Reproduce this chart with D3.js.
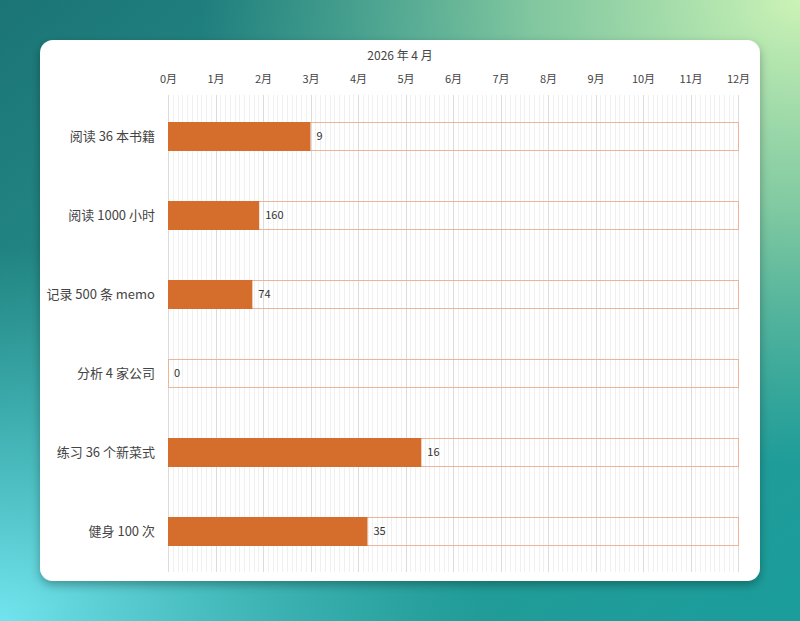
<!DOCTYPE html>
<html><head><meta charset="utf-8">
<script src="https://cdn.jsdelivr.net/npm/d3@7/dist/d3.min.js"></script>
<style>
html,body{margin:0;padding:0;width:800px;height:621px;overflow:hidden;}
svg{display:block;}
</style></head>
<body>
<svg id="c" width="800" height="621"></svg>
<script>
const categories = ["阅读 36 本书籍","阅读 1000 小时","记录 500 条 memo","分析 4 家公司","练习 36 个新菜式","健身 100 次"];
const targets = [36, 1000, 500, 4, 36, 100];
const current = [9, 160, 74, 0, 16, 35];
const monthTicks = [0,1,2,3,4,5,6,7,8,9,10,11,12];
const title = "2026 年 4 月";

const svg = d3.select("#c");
const defs = svg.append("defs");

// background
const lg = defs.append("linearGradient").attr("id","bg").attr("x1","0").attr("y1","0").attr("x2","1").attr("y2","1");
lg.append("stop").attr("offset","0").attr("stop-color","#1b7476");
lg.append("stop").attr("offset","0.5").attr("stop-color","#2a9a92");
lg.append("stop").attr("offset","1").attr("stop-color","#1a9d9c");
const rg1 = defs.append("radialGradient").attr("id","tr").attr("cx","1").attr("cy","0").attr("r","0.75");
rg1.append("stop").attr("offset","0").attr("stop-color","#ccf3b6").attr("stop-opacity",1);
rg1.append("stop").attr("offset","0.45").attr("stop-color","#9fd9a6").attr("stop-opacity",0.75);
rg1.append("stop").attr("offset","1").attr("stop-color","#7cc9a0").attr("stop-opacity",0);
const rg2 = defs.append("radialGradient").attr("id","bl").attr("cx","0").attr("cy","1").attr("r","0.6");
rg2.append("stop").attr("offset","0").attr("stop-color","#72e4ee").attr("stop-opacity",1);
rg2.append("stop").attr("offset","1").attr("stop-color","#4cc6cc").attr("stop-opacity",0);
svg.append("rect").attr("width",800).attr("height",621).attr("fill","url(#bg)");
svg.append("rect").attr("width",800).attr("height",621).attr("fill","url(#tr)");
svg.append("rect").attr("width",800).attr("height",621).attr("fill","url(#bl)");

const f = defs.append("filter").attr("id","sh").attr("x","-10%").attr("y","-10%").attr("width","120%").attr("height","125%");
f.append("feDropShadow").attr("dx",0).attr("dy",4).attr("stdDeviation",5).attr("flood-color","#000").attr("flood-opacity",0.3);
svg.append("rect").attr("x",40).attr("y",40).attr("width",720).attr("height",541).attr("rx",13)
  .attr("fill","#ffffff").attr("filter","url(#sh)");

const font = "'Noto Sans CJK SC', 'Noto Sans', sans-serif";
const x = d3.scaleLinear().domain([0,12]).range([168,738]);
const y = d3.scaleBand().domain(categories).range([95,572]).paddingInner(0.64).paddingOuter(0.32).round(true);
const gTop = 95, gBot = 572;

// minor grid
const minor = d3.range(0,120).map(i=>i/10).filter(v=>Math.abs(v-Math.round(v))>1e-6);
svg.append("g").selectAll("line").data(minor).join("line")
  .attr("x1",d=>Math.round(x(d))+0.5).attr("x2",d=>Math.round(x(d))+0.5).attr("y1",gTop).attr("y2",gBot)
  .attr("stroke","#f0f0f0").attr("stroke-width",1);
svg.append("g").selectAll("line").data(monthTicks).join("line")
  .attr("x1",d=>Math.round(x(d))+0.5).attr("x2",d=>Math.round(x(d))+0.5).attr("y1",gTop).attr("y2",gBot)
  .attr("stroke","#dcdcdc").attr("stroke-width",1);

// axis
const axis = d3.axisTop(x).tickValues(monthTicks).tickFormat(d=>d+"月").tickSize(0).tickPadding(0);
const ga = svg.append("g").attr("transform","translate(0,83)").call(axis);
ga.select(".domain").remove();
ga.selectAll("text").attr("font-family",font).attr("font-size",11).attr("fill","#444");

svg.append("text").attr("x",400).attr("y",60).attr("text-anchor","middle")
  .attr("font-family",font).attr("font-size",12).attr("fill","#444").text(title);

const data = categories.map((c,i)=>({c, v: current[i]/targets[i]*12, n: current[i]}));

// background bars (full target)
svg.append("g").selectAll("rect").data(data).join("rect")
  .attr("x",Math.round(x(0))+0.5).attr("y",d=>y(d.c)+0.5).attr("width",Math.round(x(12)-x(0))).attr("height",y.bandwidth())
  .attr("fill","none").attr("stroke","#ebb59a").attr("stroke-width",1);
// progress bars
svg.append("g").selectAll("rect").data(data).join("rect")
  .attr("x",x(0)).attr("y",d=>y(d.c)).attr("width",d=>x(d.v)-x(0)).attr("height",y.bandwidth()+1)
  .attr("fill","#d56d2c");
// value labels
svg.append("g").selectAll("text").data(data).join("text")
  .attr("x",d=>x(d.v)+6).attr("y",d=>y(d.c)+y.bandwidth()/2+4)
  .attr("font-family",font).attr("font-size",11).attr("fill","#333").text(d=>d.n);
// category labels
svg.append("g").selectAll("text").data(data).join("text")
  .attr("x",155).attr("y",d=>y(d.c)+y.bandwidth()/2+5).attr("text-anchor","end")
  .attr("font-family",font).attr("font-size",13).attr("fill","#444").text(d=>d.c);
</script>
</body></html>
